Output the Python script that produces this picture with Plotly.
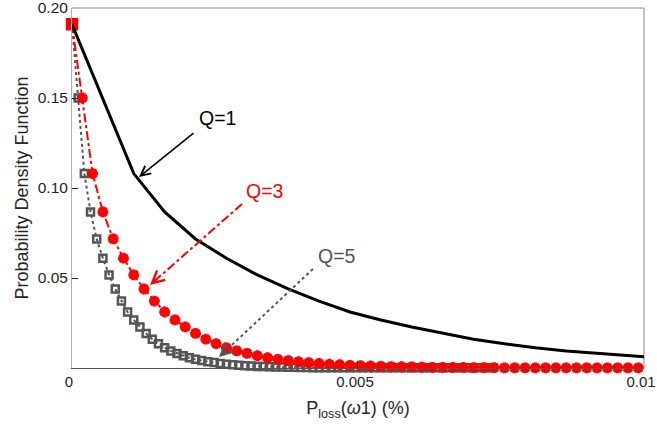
import plotly.graph_objects as go

pdf_values = [0.191, 0.150, 0.108, 0.0867, 0.0717, 0.0610, 0.0517, 0.0439, 0.0372, 0.0311,
              0.0267, 0.0228, 0.0192, 0.0160, 0.0135, 0.0112, 0.0095, 0.0081, 0.0068, 0.0057,
              0.0048, 0.0041, 0.0035, 0.0030, 0.0025, 0.0021, 0.0018, 0.0015, 0.0013, 0.0011,
              0.0009, 0.0008, 0.0007, 0.0006, 0.0005, 0.0004, 0.0004, 0.0003, 0.0003, 0.0002,
              0.0002, 0.0002, 0.0001, 0.0001, 0.0001, 0.0001, 0.0001, 0.0001, 0.0001, 0.0001,
              0.0001, 0.0001, 0.0001, 0.0001, 0.0001, 0.0001, 0.0001, 0.0001, 0.0001, 0.0001,
              0.0001, 0.0001, 0.0001, 0.0001, 0.0001, 0.0001, 0.0001, 0.0001, 0.0001]

base_step = 0.00054  # x spacing of samples for Q=1 (%)
q_values = [1, 3, 5]
n_points = {1: 20, 3: 56, 5: 69}

x_tick_vals = [0, 0.005, 0.01]
x_tick_text = ["0", "0.005", "0.01"]
y_tick_vals = [0.05, 0.10, 0.15, 0.20]
y_tick_text = ["0.05", "0.10", "0.15", "0.20"]


def series(q):
    n = n_points[q]
    xs = [i * base_step / q for i in range(n)]
    return xs, pdf_values[:n]


fig = go.Figure()

x5, y5 = series(5)
fig.add_trace(go.Scatter(
    x=x5, y=y5, mode="lines+markers", name="Q=5",
    line=dict(color="#555555", width=2, dash="dot"),
    marker=dict(symbol="square-open", size=7, color="#555555", line=dict(width=2.5, color="#555555")),
    cliponaxis=False))

x3, y3 = series(3)
sym3 = ["square"] + ["asterisk-open"] * (len(x3) - 1)
fig.add_trace(go.Scatter(
    x=x3, y=y3, mode="lines+markers", name="Q=3",
    line=dict(color="#ff0000", width=2, dash="dashdot"),
    marker=dict(symbol=sym3, size=9, color="#ff0000", line=dict(width=3.5, color="#ff0000")),
    cliponaxis=False))

x1, y1 = series(1)
fig.add_trace(go.Scatter(
    x=x1, y=y1, mode="lines", name="Q=1",
    line=dict(color="#000000", width=3)))

# plot area in pixels: left 72, right 644, top 8, bottom 368
def px2data(px, py):
    return ((px - 72) / 572 * 0.01, (368 - py) / 360 * 0.2)


annotations = []
shapes = []

def add_label(text, px, py, color):
    x, y = px2data(px, py)
    annotations.append(dict(x=x, y=y, text=text, showarrow=False,
                            font=dict(family="Arial, Liberation Sans", size=19.5, color=color),
                            xanchor="center", yanchor="middle"))


def add_arrow(tail, head, color, dash, width):
    tx, ty = px2data(*tail)
    hx, hy = px2data(*head)
    dx, dy = tail[0] - head[0], tail[1] - head[1]
    L = (dx ** 2 + dy ** 2) ** 0.5
    ux, uy = dx / L, dy / L
    if dash == "solid":
        annotations.append(dict(x=hx, y=hy, ax=dx, ay=dy, text="", showarrow=True,
                                arrowhead=5, arrowsize=1.2, arrowwidth=width, arrowcolor=color))
    else:
        sx, sy = px2data(head[0] + ux * 4, head[1] + uy * 4)
        shapes.append(dict(type="line", x0=tx, y0=ty, x1=sx, y1=sy,
                           line=dict(color=color, width=width, dash=dash)))
        annotations.append(dict(x=hx, y=hy, ax=ux * 10, ay=uy * 10, text="", showarrow=True,
                                arrowhead=5, arrowsize=1.2, arrowwidth=width, arrowcolor=color))


add_label("Q=1", 218, 118, "#000000")
add_arrow((195, 132), (139, 177), "#000000", "solid", 1.6)
add_label("Q=3", 265, 191, "#ff0000")
add_arrow((242, 204), (150, 285), "#ff0000", "dashdot", 2)
add_label("Q=5", 337, 256, "#555555")
add_arrow((313, 269), (219, 357), "#555555", "dot", 2)

font_main = "Arial, Liberation Sans, Helvetica, sans-serif"

fig.update_layout(
    width=657, height=434,
    margin=dict(l=72, r=13, t=8, b=66, autoexpand=False),
    paper_bgcolor="white", plot_bgcolor="white",
    showlegend=False,
    font=dict(family=font_main, size=15.5, color="#262626"),
    annotations=annotations,
    shapes=shapes,
    xaxis=dict(range=[0, 0.0100005], tickvals=x_tick_vals, ticktext=x_tick_text,
               ticks="inside", ticklen=6, tickcolor="#262626", tickwidth=1,
               ticklabeloverflow="allow", automargin=False, ticklabelshift=-3,
               showgrid=False, zeroline=False, showline=True, linecolor="#555555", linewidth=1,
               mirror=False,
               title=dict(text="P<sub>loss</sub>(<i>ω</i>1) (%)", font=dict(size=18, color="#262626"), standoff=12),
               tickfont=dict(size=15, color="#262626")),
    yaxis=dict(range=[0, 0.200005], tickvals=y_tick_vals, ticktext=y_tick_text,
               ticks="inside", ticklen=6, tickcolor="#262626", tickwidth=1,
               ticklabeloverflow="allow", automargin=False,
               showgrid=False, zeroline=False, showline=True, linecolor="#b0b0b0", linewidth=1,
               title=dict(text="Probability Density Function", font=dict(size=18, color="#262626"), standoff=4),
               tickfont=dict(size=15.5, color="#262626")),
)

# top and right box edges (light gray)
fig.add_shape(type="line", xref="paper", yref="paper", x0=0, y0=1, x1=1, y1=1,
              line=dict(color="#b0b0b0", width=1.5), layer="below")
fig.add_shape(type="line", xref="paper", yref="paper", x0=1, y0=0, x1=1, y1=1,
              line=dict(color="#b0b0b0", width=1.5), layer="below")

fig.write_html("out.html")
